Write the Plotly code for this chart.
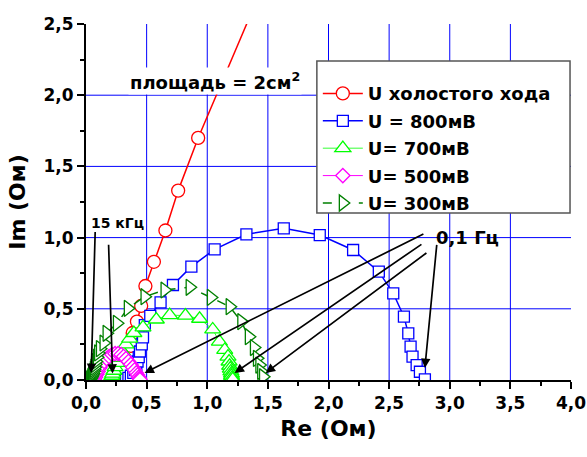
import plotly.graph_objects as go

# ---- data ----
red_x = [0.36, 0.37, 0.385, 0.42, 0.455, 0.49, 0.56, 0.655, 0.76, 0.925, 1.40]
red_y = [0.16, 0.24, 0.33, 0.41, 0.52, 0.66, 0.83, 1.05, 1.33, 1.70, 2.65]

blue_x = [0.33, 0.35, 0.37, 0.39, 0.405, 0.415, 0.425, 0.435, 0.445, 0.46, 0.47, 0.485, 0.53,
          0.615, 0.717, 0.869, 1.061, 1.323, 1.631, 1.928, 2.203, 2.415, 2.534, 2.622, 2.658,
          2.677, 2.693, 2.727, 2.754, 2.795]
blue_y = [0.005, 0.015, 0.03, 0.05, 0.07, 0.10, 0.13, 0.16, 0.20, 0.25, 0.30, 0.385, 0.45,
          0.545, 0.667, 0.796, 0.918, 1.023, 1.065, 1.018, 0.913, 0.761, 0.609, 0.445, 0.328,
          0.234, 0.164, 0.105, 0.058, 0.005]

lg_x = [0.20, 0.205, 0.21, 0.215, 0.22, 0.23, 0.24, 0.255, 0.275, 0.30, 0.33, 0.36, 0.395, 0.47,
        0.58, 0.69, 0.82, 0.937, 1.045, 1.10, 1.144, 1.171, 1.18, 1.185, 1.19, 1.195, 1.20, 1.20,
        1.205, 1.21]
lg_y = [0.003, 0.01, 0.02, 0.03, 0.045, 0.065, 0.09, 0.12, 0.155, 0.20, 0.25, 0.29, 0.33, 0.37,
        0.425, 0.456, 0.452, 0.43, 0.355, 0.27, 0.211, 0.164, 0.13, 0.10, 0.08, 0.06, 0.045, 0.03,
        0.015, 0.005]

mg_x = [0.07, 0.08, 0.09, 0.10, 0.115, 0.13, 0.15, 0.17, 0.19, 0.215, 0.24, 0.265, 0.29, 0.31,
        0.33, 0.35, 0.37, 0.385, 0.40, 0.415, 0.425, 0.435, 0.44, 0.445]
mg_y = [0.005, 0.02, 0.04, 0.06, 0.085, 0.11, 0.13, 0.15, 0.165, 0.178, 0.185, 0.185, 0.178, 0.165,
        0.15, 0.13, 0.11, 0.09, 0.07, 0.05, 0.035, 0.02, 0.01, 0.003]

dg_x = [0.03, 0.035, 0.04, 0.045, 0.05, 0.055, 0.06, 0.065, 0.07, 0.075, 0.08, 0.09, 0.10, 0.115,
        0.145, 0.17, 0.255, 0.345, 0.483, 0.648, 0.855, 1.03, 1.185, 1.281, 1.343, 1.385, 1.41,
        1.43, 1.445, 1.46]
dg_y = [0.002, 0.008, 0.015, 0.025, 0.035, 0.045, 0.06, 0.075, 0.09, 0.11, 0.13, 0.16, 0.19, 0.22,
        0.26, 0.328, 0.398, 0.503, 0.585, 0.632, 0.651, 0.58, 0.515, 0.41, 0.304, 0.228, 0.152,
        0.105, 0.06, 0.023]

series_names = ["U холостого хода", "U = 800мВ", "U= 700мВ", "U= 500мВ", "U= 300мВ"]

grid_x = [0.5, 1.0, 1.5, 2.0, 2.5, 3.0, 3.5]
grid_y = [0.5, 1.0, 1.5, 2.0]

FONT = "DejaVu Sans"

fig = go.Figure()

def add(x, y, name, color, symbol, size, dash="solid", lw=1.5):
    fig.add_trace(go.Scatter(
        x=x, y=y, name=name, mode="lines+markers", legendgroup=name,
        line=dict(color=color, width=lw, dash=dash),
        marker=dict(symbol=symbol, size=size, color="white",
                    line=dict(color=color, width=1.3)),
    ))

add(red_x, red_y, series_names[0], "#ff0000", "circle", 13)
add(blue_x, blue_y, series_names[1], "#0000ff", "square", 11)
add(lg_x, lg_y, series_names[2], "#00ff00", "triangle-up", 14, lw=0.8)
add(mg_x, mg_y, series_names[3], "#ff00ff", "diamond", 11, lw=1)
add(dg_x, dg_y, series_names[4], "#008000", "triangle-right", 14, dash="dash")

shapes = []
for gx in grid_x:
    shapes.append(dict(type="line", xref="x", yref="paper", x0=gx, x1=gx, y0=0, y1=1,
                       line=dict(color="#0000ff", width=1), layer="below"))
for gy in grid_y:
    shapes.append(dict(type="line", xref="paper", yref="y", x0=0, x1=1, y0=gy, y1=gy,
                       line=dict(color="#0000ff", width=1), layer="below"))
# legend frame
shapes.append(dict(type="rect", xref="paper", yref="paper", x0=0.476, x1=0.998, y0=0.469, y1=0.896,
                   fillcolor="white", line=dict(color="#555555", width=1.5), layer="above"))

# arrows: (tail x, tail y, head x, head y)
arrows_15k = [(0.076, 1.05, 0.043, 0.05), (0.186, 0.96, 0.219, 0.045)]
arrows_01 = [(2.795, 1.03, 0.483, 0.05), (2.779, 0.96, 1.226, 0.05),
             (2.82, 0.90, 1.482, 0.05), (2.894, 0.96, 2.795, 0.085)]

annotations = []
for (tx, ty, hx, hy) in arrows_15k + arrows_01:
    annotations.append(dict(x=hx, y=hy, ax=tx, ay=ty, xref="x", yref="y", axref="x", ayref="y",
                            text="", showarrow=True, arrowhead=2, arrowsize=1.1, arrowwidth=1.7,
                            arrowcolor="black"))

annotations += [
    dict(x=1.06, y=2.10, xref="x", yref="y", text="площадь = 2см<sup>2</sup>", showarrow=False,
         bgcolor="white", font=dict(family=FONT, size=18, color="black", weight="bold")),
    dict(x=0.26, y=1.10, xref="x", yref="y", text="15 кГц", showarrow=False,
         font=dict(family=FONT, size=14, color="black", weight="bold")),
    dict(x=3.146, y=1.004, xref="x", yref="y", text="0,1 Гц", showarrow=False,
         font=dict(family=FONT, size=18, color="black", weight="bold")),
]

axis_common = dict(
    showgrid=False, zeroline=False, showline=True, linecolor="black", linewidth=2,
    ticks="outside", ticklen=7, tickwidth=2, tickcolor="black",
    tickformat=".1f", dtick=0.5, tick0=0, automargin=False,
    tickfont=dict(family=FONT, size=17, color="black", weight="bold"),
    minor=dict(dtick=0.25, ticks="outside", ticklen=4, tickwidth=2, tickcolor="black"),
)

fig.update_layout(
    width=587, height=457,
    margin=dict(l=86, r=16, t=24, b=77),
    paper_bgcolor="white", plot_bgcolor="white",
    separators=", ",
    font=dict(family=FONT, color="black"),
    xaxis=dict(range=[0, 4], title=dict(text="Re (Ом)", standoff=8,
               font=dict(family=FONT, size=22, color="black", weight="bold")), **axis_common),
    yaxis=dict(range=[0, 2.5], title=dict(text="Im (Ом)", standoff=12,
               font=dict(family=FONT, size=22, color="black", weight="bold")), **axis_common),
    legend=dict(x=0.478, y=0.8818, xanchor="left", yanchor="top",
                bgcolor="rgba(0,0,0,0)", borderwidth=0,
                font=dict(family=FONT, size=18, color="black", weight="bold"),
                title=dict(text=" ", font=dict(size=7)),
                tracegroupgap=1, itemwidth=40),
    shapes=shapes,
    annotations=annotations,
    showlegend=True,
)

fig.write_html("out.html", post_script="document.body.style.margin='0';",
               config={"displayModeBar": False})
